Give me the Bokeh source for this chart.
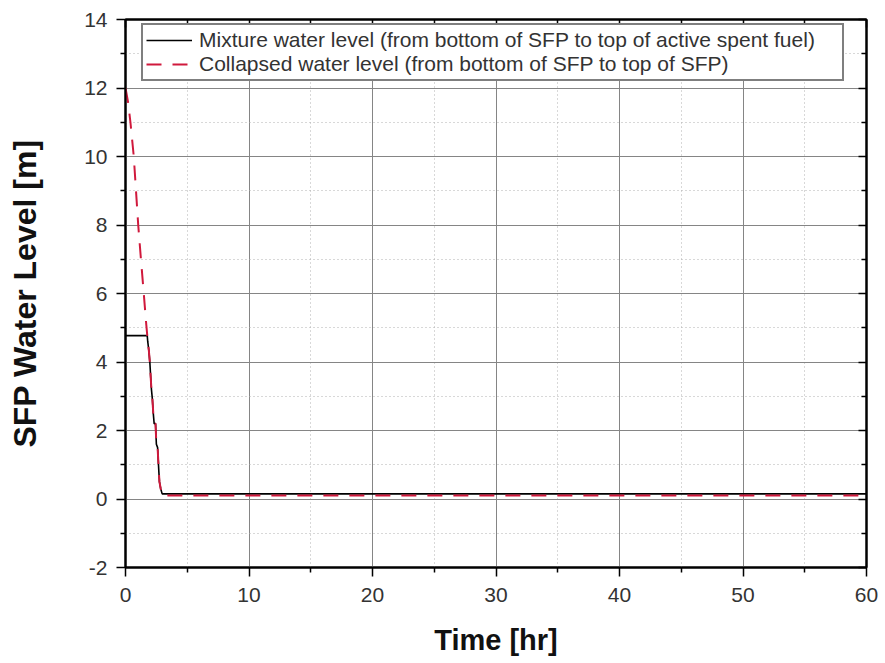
from bokeh.plotting import figure
from bokeh.models import (Legend, LegendItem, LinearAxis, Range1d, FixedTicker,
                          CustomJSTickFormatter)
from bokeh.embed import file_html
from bokeh.resources import INLINE

# ---- data ----
mix_t = [0.0, 1.76, 1.80, 1.90, 1.97, 2.05, 2.10, 2.18, 2.25, 2.32, 2.43, 2.50, 2.60, 2.70, 2.75, 2.85, 2.97, 10.0, 30.0, 60.0]
mix_y = [4.77, 4.77, 4.60, 4.30, 4.00, 3.50, 3.20, 2.90, 2.50, 2.20, 2.20, 1.60, 1.50, 0.80, 0.50, 0.30, 0.15, 0.15, 0.15, 0.15]

col_t = [0.0, 0.2, 0.4, 0.67, 1.03, 1.25, 1.48, 1.68, 1.78, 1.90, 1.97, 2.05, 2.10, 2.18, 2.25, 2.32, 2.43, 2.50, 2.60, 2.70, 2.75, 2.85, 2.97, 10.0, 30.0, 60.0]
col_y = [12.0, 11.6, 11.0, 10.0, 8.0, 7.0, 6.0, 5.1, 4.7, 4.3, 4.0, 3.5, 3.2, 2.9, 2.5, 2.2, 2.2, 1.6, 1.5, 0.8, 0.5, 0.3, 0.10, 0.10, 0.10, 0.10]

x_ticks = [0, 10, 20, 30, 40, 50, 60]
y_ticks = [-2, 0, 2, 4, 6, 8, 10, 12, 14]
x_minor = [5, 15, 25, 35, 45, 55]
y_minor = [-1, 1, 3, 5, 7, 9, 11, 13]

label_mix = "Mixture water level (from bottom of SFP to top of active spent fuel)"
label_col = "Collapsed water level (from bottom of SFP to top of SFP)"

FONT = "Liberation Sans"

p = figure(width=885, height=663, output_backend="svg", toolbar_location=None,
           x_range=Range1d(0, 60), y_range=Range1d(-2, 14),
           x_axis_location=None, y_axis_location=None)
p.min_border_left = 125
p.min_border_right = 19
p.min_border_top = 19
p.min_border_bottom = 96
p.outline_line_color = "black"
p.outline_line_width = 2
p.background_fill_color = "white"
p.border_fill_color = "white"

fmt = CustomJSTickFormatter(code="return tick.toString();")

# axes
xb = LinearAxis(ticker=FixedTicker(ticks=x_ticks, minor_ticks=x_minor),
                axis_label="Time [hr]", formatter=fmt)
yl = LinearAxis(ticker=FixedTicker(ticks=y_ticks, minor_ticks=y_minor),
                axis_label="SFP Water Level [m]", formatter=fmt)
for ax in (xb, yl):
    ax.major_tick_out = 9
    ax.major_tick_in = 0
    ax.minor_tick_out = 5
    ax.minor_tick_in = 0
    ax.axis_line_color = "black"
    ax.axis_line_width = 2
    ax.major_tick_line_width = 1.5
    ax.minor_tick_line_width = 1.5
    ax.major_label_text_font = FONT
    ax.major_label_text_font_size = "21px"
    ax.major_label_text_color = "#333333"
    ax.axis_label_text_font = FONT
    ax.axis_label_text_font_style = "bold"
    ax.axis_label_text_color = "#111111"
xb.axis_label_text_font_size = "29px"
yl.axis_label_text_font_size = "32px"
yl.major_label_standoff = 9
yl.axis_label_standoff = 38
xb.major_label_standoff = 11
xb.axis_label_standoff = 19
p.add_layout(xb, "below")
p.add_layout(yl, "left")

xt = LinearAxis(ticker=FixedTicker(ticks=x_ticks, minor_ticks=x_minor))
yr = LinearAxis(ticker=FixedTicker(ticks=y_ticks, minor_ticks=y_minor))
for ax in (xt, yr):
    ax.major_tick_out = 0
    ax.major_tick_in = 8
    ax.minor_tick_out = 0
    ax.minor_tick_in = 5
    ax.major_tick_line_width = 1.5
    ax.minor_tick_line_width = 1.5
    ax.major_label_text_font_size = "0px"
    ax.major_label_text_color = None
    ax.axis_line_color = "black"
    ax.axis_line_width = 2
p.add_layout(xt, "above")
p.add_layout(yr, "right")

# grids
p.xgrid.ticker = FixedTicker(ticks=x_ticks, minor_ticks=x_minor)
p.ygrid.ticker = FixedTicker(ticks=y_ticks, minor_ticks=y_minor)
for g in (p.xgrid, p.ygrid):
    g.grid_line_color = "#858585"
    g.grid_line_width = 1
    g.minor_grid_line_color = "#b0b0b0"
    g.minor_grid_line_dash = "1 3"
    g.minor_grid_line_width = 1

r_mix = p.line(mix_t, mix_y, line_color="black", line_width=1.6)
r_col = p.line(col_t, col_y, line_color="#d0193c", line_width=2, line_dash="15 11")

legend = Legend(items=[LegendItem(label=label_mix, renderers=[r_mix]),
                       LegendItem(label=label_col, renderers=[r_col])],
                location=(16, 486))
legend.label_text_font = FONT
legend.label_text_font_size = "21px"
legend.label_text_color = "#333333"
legend.border_line_color = "black"
legend.border_line_width = 2
legend.glyph_width = 46
legend.glyph_height = 18
legend.label_height = 18
legend.label_width = 640
legend.label_standoff = 7
legend.spacing = 0
legend.padding = 3
legend.margin = 0
legend.background_fill_alpha = 1
p.add_layout(legend, "center")

open("out.html", "w").write(file_html(p, INLINE))
